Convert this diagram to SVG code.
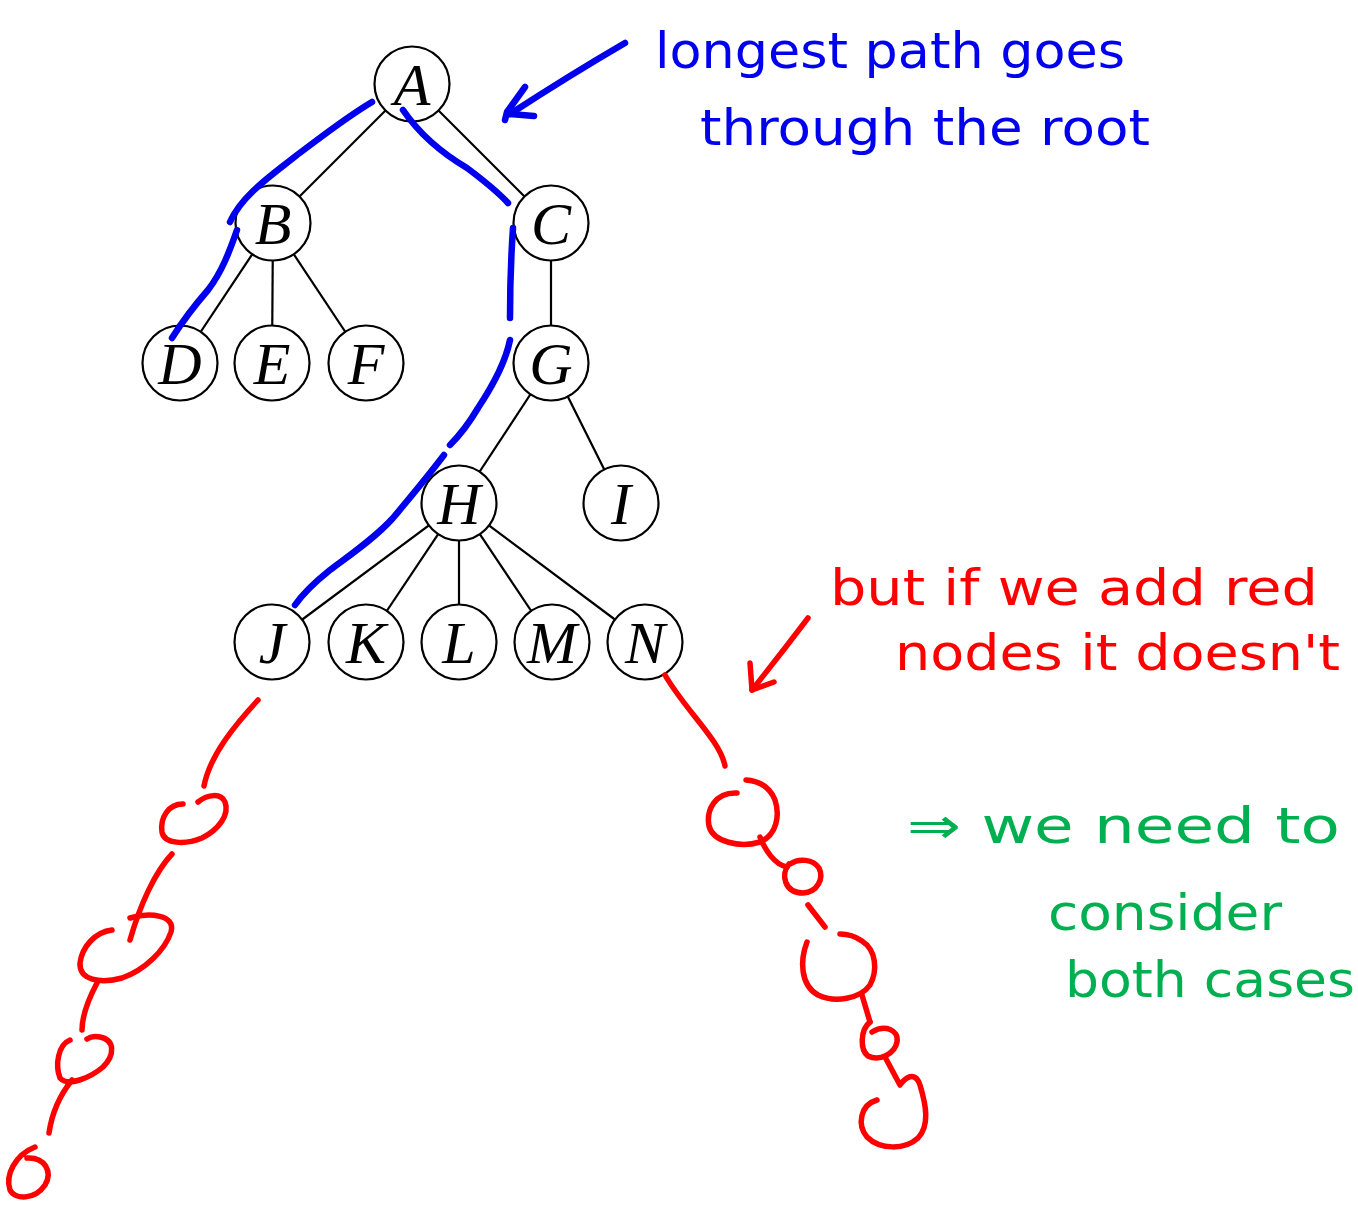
<svg xmlns="http://www.w3.org/2000/svg" width="1358" height="1220" viewBox="0 0 1358 1220">
  <style>
    .edge { stroke: #000; stroke-width: 2.2; fill: none; }
    .node circle { fill: #fff; stroke: #000; stroke-width: 2.2; }
    .node text { font-family: "Liberation Serif", "DejaVu Serif", serif; font-style: italic; font-size: 60px; text-anchor: middle; fill: #000; }
    .ink { fill: none; stroke-linecap: round; stroke-linejoin: round; }
    .blue { stroke: #0000ee; stroke-width: 6.5; }
    .red { stroke: #ff0000; stroke-width: 5.5; }
    .note { font-family: "DejaVu Sans", "Liberation Sans", sans-serif; font-size: 50px; }
  </style>

  <rect width="1358" height="1220" fill="#fff"/>

  <!-- tree edges -->
  <g id="connectors">
    <line class="edge" x1="412" y1="84" x2="273" y2="223"/>
    <line class="edge" x1="412" y1="84" x2="551" y2="223"/>
    <line class="edge" x1="273" y1="223" x2="180" y2="363"/>
    <line class="edge" x1="273" y1="223" x2="272" y2="363"/>
    <line class="edge" x1="273" y1="223" x2="366" y2="363"/>
    <line class="edge" x1="551" y1="223" x2="551" y2="363"/>
    <line class="edge" x1="551" y1="363" x2="459" y2="503"/>
    <line class="edge" x1="551" y1="363" x2="621" y2="503"/>
    <line class="edge" x1="459" y1="503" x2="272" y2="642"/>
    <line class="edge" x1="459" y1="503" x2="366" y2="642"/>
    <line class="edge" x1="459" y1="503" x2="459" y2="642"/>
    <line class="edge" x1="459" y1="503" x2="552" y2="642"/>
    <line class="edge" x1="459" y1="503" x2="645" y2="642"/>
  </g>

  <!-- tree nodes -->
  <g id="node-A" class="node"><circle cx="412" cy="84" r="37.5"/><text x="412" y="105">A</text></g>
  <g id="node-B" class="node"><circle cx="273" cy="223" r="37.5"/><text x="273" y="244">B</text></g>
  <g id="node-C" class="node"><circle cx="551" cy="223" r="37.5"/><text x="551" y="244">C</text></g>
  <g id="node-D" class="node"><circle cx="180" cy="363" r="37.5"/><text x="180" y="384">D</text></g>
  <g id="node-E" class="node"><circle cx="272" cy="363" r="37.5"/><text x="272" y="384">E</text></g>
  <g id="node-F" class="node"><circle cx="366" cy="363" r="37.5"/><text x="366" y="384">F</text></g>
  <g id="node-G" class="node"><circle cx="551" cy="363" r="37.5"/><text x="551" y="384">G</text></g>
  <g id="node-H" class="node"><circle cx="459" cy="503" r="37.5"/><text x="459" y="524">H</text></g>
  <g id="node-I" class="node"><circle cx="621" cy="503" r="37.5"/><text x="621" y="524">I</text></g>
  <g id="node-J" class="node"><circle cx="272" cy="642" r="37.5"/><text x="272" y="663">J</text></g>
  <g id="node-K" class="node"><circle cx="366" cy="642" r="37.5"/><text x="366" y="663">K</text></g>
  <g id="node-L" class="node"><circle cx="459" cy="642" r="37.5"/><text x="459" y="663">L</text></g>
  <g id="node-M" class="node"><circle cx="552" cy="642" r="37.5"/><text x="552" y="663">M</text></g>
  <g id="node-N" class="node"><circle cx="645" cy="642" r="37.5"/><text x="645" y="663">N</text></g>

  <!-- blue marks: longest path through the root -->
  <g id="blue-path" class="ink blue">
    <path d="M372 102 C345 118 320 138 297 155 C272 175 242 195 230 222"/>
    <path d="M237 230 C230 250 222 272 208 290 C195 305 182 322 172 338"/>
    <path d="M403 110 C418 132 440 152 467 168 C483 180 498 192 508 203"/>
    <path d="M513 228 C511 257 510 290 510 318"/>
    <path d="M510 340 C505 365 490 390 478 408 C468 425 458 437 450 445"/>
    <path d="M444 455 C425 480 408 500 393 518 C375 538 350 555 330 570 C315 582 302 595 295 605"/>
    <path d="M625 43 Q570 75 510 114"/>
    <path d="M525 87 L507 112 L505 120"/>
    <path d="M510 114 L534 116"/>
  </g>
  <g id="blue-note" class="note" fill="#0000ee">
    <text x="655" y="68" textLength="470" lengthAdjust="spacingAndGlyphs">longest path goes</text>
    <text x="700" y="145" textLength="450" lengthAdjust="spacingAndGlyphs">through the root</text>
  </g>

  <!-- red marks: extra chains hanging below J and N -->
  <g id="red-chains" class="ink red">
    <path d="M258 700 C235 725 210 755 204 786"/>
    <path d="M183 804 C168 804 160 818 162 832 C164 844 185 845 202 838 C218 830 230 815 225 802 C221 793 208 794 198 802"/>
    <path d="M172 854 C155 872 140 905 130 940"/>
    <path d="M112 930 C95 932 82 947 80 963 C79 980 100 984 122 978 C145 970 165 950 171 932 C176 915 150 912 130 918"/>
    <path d="M97 983 C88 1000 82 1015 82 1030"/>
    <path d="M70 1040 C58 1045 55 1065 60 1078 C68 1087 90 1078 103 1067 C115 1055 115 1040 100 1037 C95 1036 90 1037 87 1039"/>
    <path d="M72 1080 C60 1095 52 1112 49 1133"/>
    <path d="M35 1147 C15 1155 5 1175 10 1190 C15 1200 35 1200 45 1185 C53 1172 45 1157 27 1158"/>

    <path d="M665 675 C685 710 720 740 725 766"/>
    <path d="M737 793 C715 792 706 810 709 826 C713 842 740 848 760 842 C777 835 780 815 775 800 C770 787 760 781 746 780"/>
    <path d="M760 837 C765 850 775 865 787 867"/>
    <path d="M789 864 C780 875 785 893 803 893 C818 892 824 878 819 868 C813 859 799 858 790 864"/>
    <path d="M808 905 L825 927"/>
    <path d="M807 942 C800 960 800 985 818 995 C835 1003 860 999 870 985 C878 970 876 950 862 941 C855 936 848 934 840 934"/>
    <path d="M862 995 L870 1022"/>
    <path d="M870 1022 C860 1030 860 1050 868 1056 C880 1062 895 1053 897 1042 C899 1030 885 1024 872 1032"/>
    <path d="M885 1057 L900 1085 C905 1078 915 1070 920 1085 C926 1105 930 1125 918 1138 C905 1150 880 1150 867 1137 C857 1125 860 1105 877 1100"/>

    <path d="M808 618 Q780 655 752 690"/>
    <path d="M750 663 L752 690 L774 682"/>
  </g>
  <g id="red-note" class="note" fill="#ff0000">
    <text x="830" y="605" textLength="488" lengthAdjust="spacingAndGlyphs">but if we add red</text>
    <text x="895" y="670" textLength="445" lengthAdjust="spacingAndGlyphs">nodes it doesn't</text>
  </g>

  <!-- green conclusion -->
  <g id="green-note" class="note" fill="#00b050">
    <text x="907" y="843" textLength="433" lengthAdjust="spacingAndGlyphs">⇒ we need to</text>
    <text x="1048" y="930" textLength="234" lengthAdjust="spacingAndGlyphs">consider</text>
    <text x="1065" y="997" textLength="290" lengthAdjust="spacingAndGlyphs">both cases</text>
  </g>
</svg>
